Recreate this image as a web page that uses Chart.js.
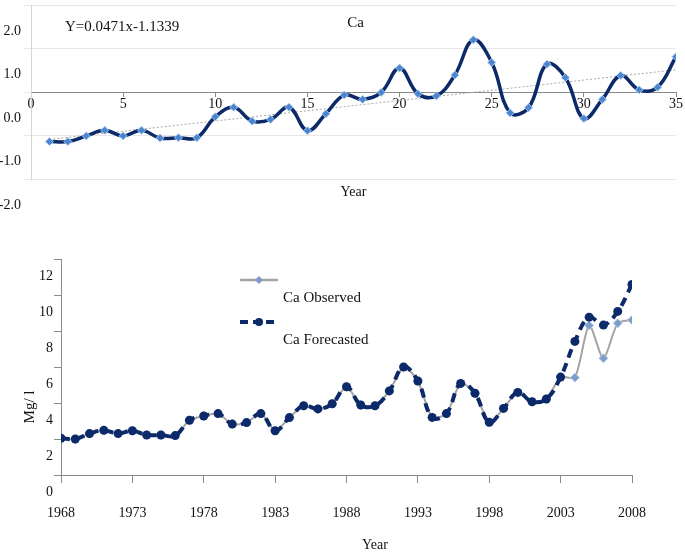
<!DOCTYPE html>
<html><head><meta charset="utf-8">
<script src="https://cdn.jsdelivr.net/npm/chart.js@4.4.1/dist/chart.umd.min.js"></script>
<style>
html,body{margin:0;padding:0;background:#fff;width:685px;height:554px;overflow:hidden}
#c1{position:absolute;left:0;top:0}
#c2{position:absolute;left:0;top:215px}
</style></head><body>
<canvas id="c1" width="685" height="215"></canvas>
<canvas id="c2" width="685" height="339"></canvas>
<script>
// ---------- data: top chart (standardised Ca vs year index) ----------
const topX = [1,2,3,4,5,6,7,8,9,10,11,12,13,14,15,16,17,18,19,20,21,22,23,24,25,26,27,28,29,30,31,32,33,34,35];
const topCa = [-1.14,-1.14,-1.01,-0.88,-1.01,-0.88,-1.06,-1.05,-1.05,-0.57,-0.35,-0.67,-0.63,-0.35,-0.89,-0.50,-0.07,-0.17,-0.01,0.55,-0.04,-0.09,0.39,1.20,0.68,-0.48,-0.36,0.64,0.33,-0.61,-0.17,0.38,0.05,0.11,0.81];
const trendX = [1, 35];
const trendY = [-1.09, 0.51];
const topXTicks = [0,5,10,15,20,25,30,35];
const topYTicks = [-2,-1,0,1,2];
const topTitle = 'Ca';
const trendLabel = 'Y=0.0471x-1.1339';
const xTitle = 'Year';

// ---------- data: bottom chart (Ca observed vs forecasted, Mg/l) ----------
const years = [1968,1969,1970,1971,1972,1973,1974,1975,1976,1977,1978,1979,1980,1981,1982,1983,1984,1985,1986,1987,1988,1989,1990,1991,1992,1993,1994,1995,1996,1997,1998,1999,2000,2001,2002,2003,2004,2005,2006,2007,2008];
const caObserved = [2.04,2.00,2.30,2.48,2.30,2.46,2.22,2.22,2.19,3.04,3.28,3.41,2.83,2.91,3.41,2.46,3.19,3.85,3.67,3.96,4.90,3.89,3.85,4.67,6.00,5.22,3.20,3.41,5.09,4.54,2.93,3.70,4.59,4.07,4.22,5.44,5.41,8.31,6.48,8.43,8.61];
const caForecasted = [2.04,2.00,2.30,2.48,2.30,2.46,2.22,2.22,2.19,3.04,3.28,3.41,2.83,2.91,3.41,2.46,3.19,3.85,3.67,3.96,4.90,3.89,3.85,4.67,6.00,5.22,3.20,3.41,5.09,4.54,2.93,3.70,4.59,4.07,4.22,5.44,7.42,8.77,8.33,9.09,10.59];
const bottomXTicks = [1968,1973,1978,1983,1988,1993,1998,2003,2008];
const bottomYTicks = [0,2,4,6,8,10,12];
const seriesNames = ['Ca Observed','Ca Forecasted'];
const yTitle = 'Mg/ l';

// ---------- styling ----------
const FONT = "'Liberation Serif','Times New Roman',serif";
Chart.defaults.font.family = FONT;
Chart.defaults.color = '#111';
const NAVY = '#0c2a69';
const AXIS = '#8a8a8a';

function zeroPad(s){ s.paddingTop=0; s.paddingBottom=0; s.paddingLeft=0; s.paddingRight=0; }
function setTicks(arr){ return s => { s.ticks = arr.map(v => ({value:v})); }; }

const topText = {
  id:'topText',
  afterDraw(chart){
    const ctx = chart.ctx, a = chart.chartArea;
    ctx.save();
    ctx.fillStyle = '#111';
    ctx.textBaseline = 'middle';
    ctx.font = '15px ' + FONT;
    ctx.textAlign = 'left';
    ctx.fillText(trendLabel, 65, 27);
    ctx.textAlign = 'center';
    ctx.fillText(topTitle, (a.left + a.right)/2 + 2, 23);
    ctx.font = '14px ' + FONT;
    ctx.fillText(xTitle, (a.left + a.right)/2, 192);
    ctx.restore();
  }
};

new Chart(document.getElementById('c1'), {
  type:'line',
  data:{
    labels: topX,
    datasets:[
      {label:topTitle, data: topCa, borderColor:NAVY, borderWidth:3.5, tension:0.4,
       pointStyle:'rectRot', pointRadius:4, pointBackgroundColor:'#4a86d0',
       pointBorderColor:'#a6c6ee', pointBorderWidth:1, order:0},
      {label:'trend', data: trendX.map((x,i)=>({x:x, y:trendY[i]})), borderColor:'#a8a8a8',
       borderWidth:1, borderDash:[2,2], pointRadius:0, tension:0, order:1}
    ]
  },
  options:{
    responsive:false, animation:false, devicePixelRatio:1,
    layout:{padding:{top:1,right:9,left:0,bottom:36}},
    plugins:{legend:{display:false}, tooltip:{enabled:false}},
    scales:{
      x:{type:'linear', position:{y:0}, min:0, max:35,
         afterBuildTicks:setTicks(topXTicks),
         afterFit:s=>{ s.height=0; zeroPad(s); },
         grid:{drawOnChartArea:false, drawTicks:true, tickLength:4, color:AXIS},
         border:{color:AXIS, width:1},
         ticks:{padding:0, font:{size:14}, color:'#111', maxRotation:0, autoSkip:false, callback:v=>String(v)}},
      y:{type:'linear', min:-2, max:2,
         afterBuildTicks:setTicks(topYTicks),
         afterFit:s=>{ s.width=31; zeroPad(s); },
         grid:{color:'#e8e8e8', drawTicks:true, tickLength:7},
         border:{color:'#d6d6d6'},
         ticks:{padding:3, labelOffset:26, font:{size:14}, color:'#111', callback:v=>Number(v).toFixed(1)}}
    }
  },
  plugins:[topText]
});

const bottomText = {
  id:'bottomText',
  afterDraw(chart){
    const ctx = chart.ctx;
    const obs = chart.data.datasets[1], fc = chart.data.datasets[0];
    ctx.save();
    // legend: observed
    ctx.strokeStyle = obs.borderColor; ctx.lineWidth = 2.5; ctx.setLineDash([]);
    ctx.beginPath(); ctx.moveTo(240,65); ctx.lineTo(278,65); ctx.stroke();
    ctx.fillStyle = obs.pointBackgroundColor;
    ctx.beginPath(); ctx.moveTo(259,61); ctx.lineTo(263,65); ctx.lineTo(259,69); ctx.lineTo(255,65); ctx.closePath(); ctx.fill();
    // legend: forecasted
    ctx.strokeStyle = fc.borderColor; ctx.lineWidth = 4; ctx.setLineDash([8,5]);
    ctx.beginPath(); ctx.moveTo(240,107); ctx.lineTo(277,107); ctx.stroke();
    ctx.setLineDash([]);
    ctx.fillStyle = fc.pointBackgroundColor;
    ctx.beginPath(); ctx.arc(259,107,4,0,Math.PI*2); ctx.fill();
    ctx.fillStyle = '#111';
    ctx.font = '15px ' + FONT;
    ctx.textAlign = 'left'; ctx.textBaseline = 'middle';
    ctx.fillText(obs.label, 283, 83);
    ctx.fillText(fc.label, 283, 125);
    // axis titles
    ctx.textAlign = 'center';
    ctx.font = '14px ' + FONT;
    ctx.fillText(xTitle, 375, 330);
    ctx.translate(30, 192); ctx.rotate(-Math.PI/2);
    ctx.font = '15px ' + FONT;
    ctx.fillText(yTitle, 0, 0);
    ctx.restore();
  }
};

new Chart(document.getElementById('c2'), {
  type:'line',
  data:{
    labels: years,
    datasets:[
      {label:seriesNames[1], data: caForecasted, borderColor:NAVY, borderWidth:4, borderDash:[9,6],
       tension:0.4, pointStyle:'circle', pointRadius:4.5, pointBackgroundColor:NAVY,
       pointBorderColor:NAVY, pointBorderWidth:0, order:0},
      {label:seriesNames[0], data: caObserved, borderColor:'#a3a3a3', borderWidth:2, tension:0.25,
       pointStyle:'rectRot', pointRadius:4.5, pointBackgroundColor:'#7d9dcb',
       pointBorderColor:'#b3cbe9', pointBorderWidth:1, order:1}
    ]
  },
  options:{
    responsive:false, animation:false, devicePixelRatio:1,
    layout:{padding:{top:44,right:53,left:0,bottom:0}},
    plugins:{legend:{display:false}, tooltip:{enabled:false}},
    scales:{
      x:{type:'linear', min:1968, max:2008,
         afterBuildTicks:setTicks(bottomXTicks),
         afterFit:s=>{ s.height=79; zeroPad(s); },
         grid:{drawOnChartArea:false, drawTicks:true, tickLength:8, color:AXIS},
         border:{color:AXIS},
         ticks:{padding:22, font:{size:14}, color:'#111', maxRotation:0, autoSkip:false, callback:v=>String(v)}},
      y:{type:'linear', min:0, max:12,
         afterBuildTicks:setTicks(bottomYTicks),
         afterFit:s=>{ s.width=61; zeroPad(s); },
         grid:{drawOnChartArea:false, drawTicks:true, tickLength:7, color:AXIS},
         border:{color:AXIS},
         ticks:{padding:1, labelOffset:17, font:{size:14}, color:'#111', callback:v=>String(v)}}
    }
  },
  plugins:[bottomText]
});
</script>
</body></html>
